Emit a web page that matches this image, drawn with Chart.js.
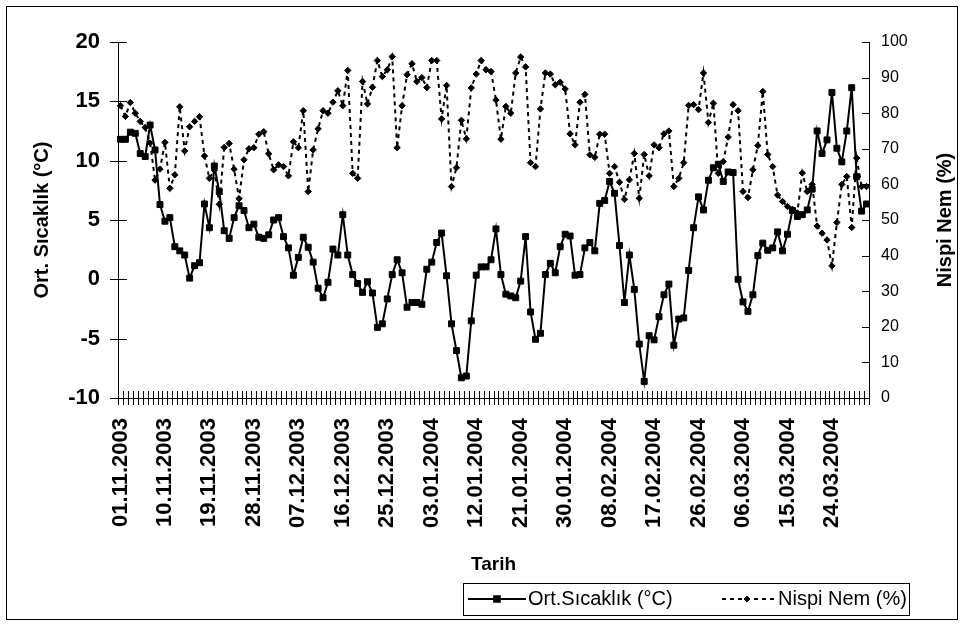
<!DOCTYPE html>
<html>
<head>
<meta charset="utf-8">
<script src="https://cdn.jsdelivr.net/npm/chart.js@4.4.1/dist/chart.umd.min.js"></script>
<style>
  html, body { margin: 0; padding: 0; background: #fff; }
  canvas { display: block; }
</style>
</head>
<body>
<canvas id="climate-chart" width="964" height="626"></canvas>
<script>
// Daily values, 01.11.2003 - 31.03.2004
const firstDay = new Date(2003, 10, 1);
const dayCount = 152;

// Ort. Sıcaklık (°C)
const temperature = [
  11.8, 11.8, 12.4, 12.3, 10.6, 10.35, 13.0, 10.9, 6.3, 4.9,
  5.2, 2.75, 2.4, 2.05, 0.1, 1.15, 1.4, 6.35, 4.35, 9.55,
  7.4, 4.1, 3.45, 5.2, 6.2, 5.8, 4.35, 4.65, 3.55, 3.45,
  3.75, 5.0, 5.2, 3.6, 2.65, 0.35, 1.85, 3.55, 2.7, 1.45,
  -0.75, -1.55, -0.25, 2.55, 2.05, 5.45, 2.05, 0.4, -0.35, -1.1,
  -0.2, -1.15, -4.05, -3.75, -1.65, 0.4, 1.65, 0.55, -2.35, -1.95,
  -1.95, -2.1, 0.85, 1.45, 3.1, 3.9, 0.3, -3.75, -6.0, -8.3,
  -8.15, -3.5, 0.35, 1.05, 1.05, 1.65, 4.25, 0.4, -1.25, -1.4,
  -1.55, -0.15, 3.6, -2.75, -5.05, -4.55, 0.4, 1.35, 0.55, 2.75,
  3.8, 3.65, 0.35, 0.4, 2.65, 3.1, 2.4, 6.4, 6.65, 8.25,
  7.25, 2.85, -1.95, 2.05, -0.85, -5.45, -8.6, -4.75, -5.1, -3.15,
  -1.3, -0.4, -5.55, -3.35, -3.25, 0.75, 4.35, 6.95, 5.85, 8.35,
  9.4, 9.7, 8.25, 9.05, 9.0, 0.0, -1.9, -2.7, -1.3, 2.0,
  3.05, 2.45, 2.65, 4.0, 2.4, 3.8, 5.8, 5.3, 5.45, 5.85,
  7.6, 12.5, 10.6, 11.75, 15.75, 11.05, 9.9, 12.5, 16.15, 8.65,
  5.75, 6.35
];

// Nispi Nem (%)
const humidity = [
  82.1, 79.1, 83.0, 80.0, 77.7, 76.0, 71.6, 61.2, 64.3, 71.8,
  58.9, 62.7, 81.8, 69.4, 76.2, 77.7, 79.0, 68.0, 61.7, 64.0,
  54.4, 70.4, 71.5, 64.3, 56.0, 66.9, 70.0, 70.3, 74.1, 74.8,
  68.6, 64.1, 65.5, 65.0, 62.4, 72.0, 70.3, 80.7, 58.0, 69.7,
  75.6, 80.7, 80.0, 83.1, 86.3, 82.1, 92.0, 63.1, 61.7, 88.9,
  82.6, 87.3, 94.8, 90.3, 92.2, 95.9, 70.3, 82.1, 90.8, 93.9,
  88.9, 90.0, 87.2, 94.8, 94.8, 78.4, 87.8, 59.4, 64.7, 78.0,
  72.8, 87.1, 91.0, 94.8, 92.2, 91.7, 83.7, 72.7, 81.9, 80.0,
  91.3, 95.8, 93.0, 66.1, 65.0, 81.2, 91.3, 91.0, 88.0, 88.7,
  86.8, 74.2, 71.1, 83.1, 85.3, 68.3, 67.6, 74.1, 74.1, 63.1,
  65.0, 60.6, 55.8, 61.3, 68.7, 56.1, 68.4, 62.4, 71.1, 70.3,
  74.2, 75.0, 59.4, 61.7, 66.1, 82.2, 82.4, 81.0, 91.3, 77.4,
  82.8, 63.1, 66.4, 73.3, 82.4, 80.7, 58.0, 56.3, 64.1, 70.9,
  86.1, 68.4, 65.0, 57.0, 55.2, 53.8, 53.0, 52.0, 63.2, 58.0,
  60.0, 48.3, 46.3, 44.4, 37.1, 49.3, 60.0, 62.2, 47.9, 67.4,
  59.4, 59.4
];

const tempTicks = [-10, -5, 0, 5, 10, 15, 20];
const humTicks = [0, 10, 20, 30, 40, 50, 60, 70, 80, 90, 100];
const labelEvery = 9;

const FONT = "'Liberation Sans', Arial, sans-serif";

// category labels dd.mm.yyyy
const dates = [];
for (let i = 0; i < dayCount; i++) {
  const d = new Date(firstDay.getFullYear(), firstDay.getMonth(), firstDay.getDate() + i);
  const dd = String(d.getDate()).padStart(2, '0');
  const mm = String(d.getMonth() + 1).padStart(2, '0');
  dates.push(dd + '.' + mm + '.' + d.getFullYear());
}

// tick marks, frame, right title and legend box
const decorations = {
  id: 'decorations',
  beforeDatasetsDraw(chart) {
    const ctx = chart.ctx;
    const area = chart.chartArea;
    const yL = chart.scales.y;
    const yR = chart.scales.y1;
    ctx.save();
    ctx.strokeStyle = '#000';
    ctx.lineWidth = 1;
    ctx.beginPath();
    tempTicks.forEach(v => {
      const y = Math.round(yL.getPixelForValue(v)) + 0.5;
      ctx.moveTo(area.left - 8, y);
      ctx.lineTo(area.left + 9, y);
    });
    humTicks.forEach(v => {
      const y = Math.round(yR.getPixelForValue(v)) + 0.5;
      ctx.moveTo(area.right - 7, y);
      ctx.lineTo(area.right, y);
    });
    const step = (area.right - area.left) / dates.length;
    for (let i = 0; i <= dates.length; i++) {
      const x = Math.round(area.left + i * step) + 0.5;
      ctx.moveTo(x, area.bottom - 7);
      ctx.lineTo(x, area.bottom + 7);
    }
    ctx.stroke();
    ctx.restore();
  },
  afterDraw(chart) {
    const ctx = chart.ctx;
    const area = chart.chartArea;
    ctx.save();
    ctx.strokeStyle = '#000';
    ctx.fillStyle = '#000';
    ctx.lineWidth = 1;

    // outer frame
    ctx.strokeRect(6.5, 6.5, 951, 613);

    // right axis title
    ctx.save();
    ctx.translate(945, (area.top + area.bottom) / 2);
    ctx.rotate(-Math.PI / 2);
    ctx.font = 'bold 20px ' + FONT;
    ctx.textAlign = 'center';
    ctx.textBaseline = 'middle';
    ctx.fillText('Nispi Nem (%)', 0, 0);
    ctx.restore();

    // legend
    const ly = 599;
    ctx.strokeRect(463.5, 583.5, 446, 32);
    ctx.lineWidth = 2;
    ctx.beginPath();
    ctx.moveTo(468, ly);
    ctx.lineTo(526, ly);
    ctx.stroke();
    Chart.helpers.drawPoint(ctx, { pointStyle: 'rect', radius: 4, borderWidth: 1 }, 497, ly);
    ctx.fill();
    ctx.setLineDash([4, 4]);
    ctx.beginPath();
    ctx.moveTo(722, ly);
    ctx.lineTo(774, ly);
    ctx.stroke();
    ctx.setLineDash([]);
    ctx.lineWidth = 1;
    Chart.helpers.drawPoint(ctx, { pointStyle: 'rectRot', radius: 3, borderWidth: 1 }, 747, ly);

    ctx.font = '20px ' + FONT;
    ctx.textAlign = 'left';
    ctx.textBaseline = 'middle';
    ctx.fillText('Ort.Sıcaklık (°C)', 528, ly);
    ctx.fillText('Nispi Nem (%)', 778, ly);
    ctx.restore();
  }
};

function buildChart() {
  const ctx = document.getElementById('climate-chart').getContext('2d');

  new Chart(ctx, {
    type: 'line',
    data: {
      labels: dates,
      datasets: [{
        label: 'Ort.Sıcaklık (°C)',
        data: temperature,
        yAxisID: 'y',
        borderColor: '#000',
        borderWidth: 2,
        backgroundColor: '#000',
        pointStyle: 'rect',
        pointRadius: 4.2,
        pointBorderWidth: 1,
        pointBorderColor: '#000',
        pointBackgroundColor: '#000',
        tension: 0
      }, {
        label: 'Nispi Nem (%)',
        data: humidity,
        yAxisID: 'y1',
        borderColor: '#000',
        borderWidth: 2,
        borderDash: [4, 4],
        backgroundColor: '#000',
        pointStyle: 'rectRot',
        pointRadius: 3.2,
        pointBorderWidth: 1,
        pointBorderColor: '#000',
        pointBackgroundColor: '#000',
        tension: 0
      }]
    },
    options: {
      responsive: false,
      animation: false,
      layout: { padding: { top: 42, left: 0, right: 0, bottom: 0 } },
      plugins: {
        legend: { display: false },
        tooltip: { enabled: false }
      },
      scales: {
        x: {
          type: 'category',
          offset: true,
          grid: { display: true, drawOnChartArea: false, drawTicks: false, offset: true },
          border: { display: true, color: '#000', width: 1 },
          ticks: {
            autoSkip: false,
            maxRotation: 90,
            minRotation: 90,
            padding: 20,
            color: '#000',
            font: { family: FONT, size: 22, weight: 'bold' },
            callback: (value, index) => (index % labelEvery === 0 ? dates[index] : '')
          },
          title: {
            display: true,
            text: 'Tarih',
            color: '#000',
            font: { family: FONT, size: 19, weight: 'bold' },
            padding: { top: 0, bottom: 50 }
          },
          afterFit: scale => { scale.height = 228; }
        },
        y: {
          position: 'left',
          min: -10,
          max: 20,
          grid: { display: true, drawOnChartArea: false, drawTicks: false },
          border: { display: true, color: '#000', width: 1 },
          ticks: {
            stepSize: 5,
            padding: 18,
            color: '#000',
            font: { family: FONT, size: 22, weight: 'bold' }
          },
          title: {
            display: true,
            text: 'Ort. Sıcaklık (°C)',
            color: '#000',
            font: { family: FONT, size: 20, weight: 'bold' },
            padding: { top: 30, bottom: 0 }
          },
          afterFit: scale => { scale.width = 118; }
        },
        y1: {
          position: 'right',
          min: 0,
          max: 100,
          grid: { display: true, drawOnChartArea: false, drawTicks: false },
          border: { display: true, color: '#000', width: 1 },
          ticks: {
            stepSize: 10,
            padding: 12,
            color: '#000',
            font: { family: FONT, size: 16 }
          },
          afterFit: scale => { scale.width = 95; }
        }
      }
    },
    plugins: [decorations]
  });
}

window.onload = buildChart;
</script>
</body>
</html>
